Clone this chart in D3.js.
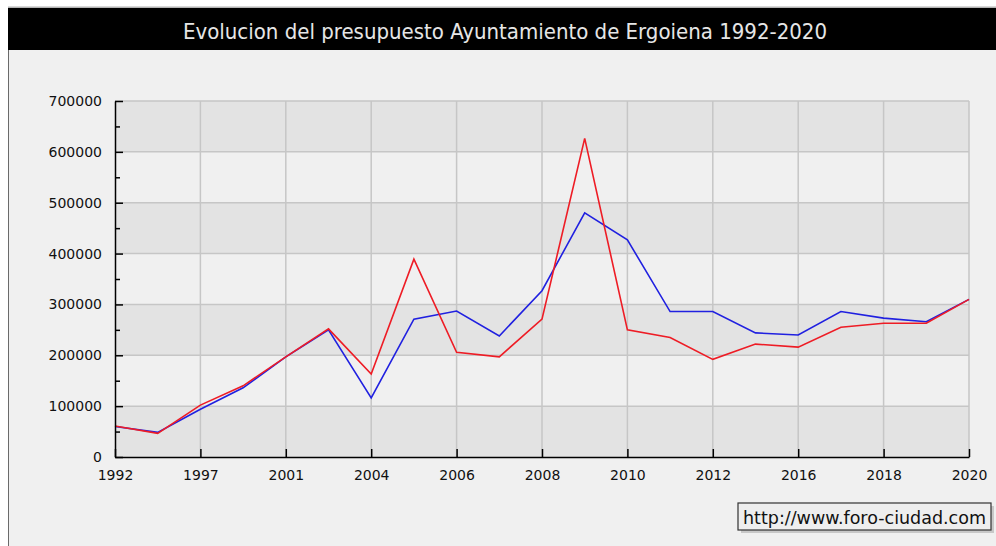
<!DOCTYPE html>
<html>
<head>
<meta charset="utf-8">
<script src="https://cdn.jsdelivr.net/npm/d3@7"></script>
<style>
html,body{margin:0;padding:0;background:#ffffff;}
svg{display:block;}
</style>
</head>
<body>
<svg id="chart" width="996" height="546"></svg>
<script>
const title = "Evolucion del presupuesto Ayuntamiento de Ergoiena 1992-2020";
const years = ["1992","1994","1997","1999","2001","2003","2004","2005","2006","2007","2008","2009","2010","2011","2012","2014","2016","2017","2018","2019","2020"];
const tickYears = ["1992","1997","2001","2004","2006","2008","2010","2012","2016","2018","2020"];
const blueValues = [60000,48500,94000,136000,197000,250000,116000,271000,287000,238000,327000,480000,427000,286000,286000,244000,240000,286000,273000,266000,310000];
const redValues  = [61000,46500,102000,140000,197000,252000,163000,389000,206000,197000,271000,626500,250000,235000,192000,222000,216000,255000,263000,263000,310000];
const yTicks = [0,100000,200000,300000,400000,500000,600000,700000];
const yMinorTicks = [50000,150000,250000,350000,450000,550000,650000];
const watermark = "http://www.foro-ciudad.com";

(function(){
const svg = d3.select("#chart");
const font = "'DejaVu Sans', Verdana, sans-serif";

// panel
svg.append("rect").attr("x",8.5).attr("y",8).attr("width",990).attr("height",540)
  .attr("fill","#f0f0f0").attr("stroke","#6a6a6a").attr("stroke-width",1);
svg.append("line").attr("x1",8).attr("x2",996).attr("y1",6.5).attr("y2",6.5).attr("stroke","#d8d8d8");
// title bar
svg.append("rect").attr("x",8).attr("y",8).attr("width",988).attr("height",42).attr("fill","#000");
svg.append("text").attr("x",505).attr("y",31).attr("text-anchor","middle").attr("dominant-baseline","central")
  .attr("fill","#e6e6e6").style("font-family","'DejaVu Sans Condensed', 'DejaVu Sans', sans-serif").style("font-size","22px").text(title);

const pl = 115, pr = 969, pt = 101, pb = 457;
const x = d3.scalePoint().domain(years).range([pl, pr]);
const y = d3.scaleLinear().domain([0,700000]).range([pb, pt]);

// bands
const bands = d3.pairs(yTicks);
svg.append("g").selectAll("rect").data(bands).join("rect")
  .attr("x", pl).attr("width", pr-pl)
  .attr("y", d=>y(d[1])).attr("height", d=>y(d[0])-y(d[1]))
  .attr("fill",(d,i)=> i%2===0 ? "#e3e3e3" : "#f0f0f0");

// grid
const grid = svg.append("g").attr("stroke","#c6c6c6").attr("stroke-width",1.5);
grid.selectAll("line.h").data(yTicks.slice(1)).join("line").attr("class","h")
  .attr("x1",pl).attr("x2",pr).attr("y1",d=>y(d)).attr("y2",d=>y(d));
grid.selectAll("line.v").data(tickYears.slice(1)).join("line").attr("class","v")
  .attr("x1",d=>x(d)).attr("x2",d=>x(d)).attr("y1",pt).attr("y2",pb);

// lines
const line = (vals)=> d3.line().x((d,i)=>x(years[i])).y(d=>y(d))(vals);
svg.append("path").attr("d",line(blueValues)).attr("fill","none").attr("stroke","#2020e0").attr("stroke-width",1.6);
svg.append("path").attr("d",line(redValues)).attr("fill","none").attr("stroke","#ee1c25").attr("stroke-width",1.6);

// axes
const yAxis = d3.axisLeft(y).tickValues(yTicks).tickSizeInner(-8).tickSizeOuter(0).tickPadding(13).tickFormat(d3.format("d"));
const gy = svg.append("g").attr("transform",`translate(${pl},0)`).call(yAxis);
const yMinor = d3.axisLeft(y).tickValues(yMinorTicks).tickSizeInner(-5).tickSizeOuter(0).tickFormat("");
const gym = svg.append("g").attr("transform",`translate(${pl},0)`).call(yMinor);
gym.select(".domain").remove();

const xAxis = d3.axisBottom(x).tickValues(tickYears).tickSizeInner(-8).tickSizeOuter(0).tickPadding(13);
const gx = svg.append("g").attr("transform",`translate(0,${pb})`).call(xAxis);

[gy,gym,gx].forEach(g=>{
  g.selectAll(".domain").attr("stroke","#000").attr("stroke-width",1.5);
  g.selectAll(".tick line").attr("stroke","#000").attr("stroke-width",1.5);
  g.selectAll("text").attr("fill","#111").style("font-family",font).style("font-size","14px");
});

// watermark box
const wb = {x:738, y:503, w:253, h:27};
svg.append("rect").attr("x",wb.x+3).attr("y",wb.y+3).attr("width",wb.w).attr("height",wb.h).attr("fill","#c8c8c8");
svg.append("rect").attr("x",wb.x).attr("y",wb.y).attr("width",wb.w).attr("height",wb.h).attr("fill","#eeeeee").attr("stroke","#333").attr("stroke-width",1.2);
svg.append("text").attr("x",wb.x+wb.w/2).attr("y",wb.y+wb.h/2+1).attr("text-anchor","middle").attr("dominant-baseline","central")
  .attr("fill","#111").style("font-family",font).style("font-size","17.5px").text(watermark);
})();
</script>
</body>
</html>
